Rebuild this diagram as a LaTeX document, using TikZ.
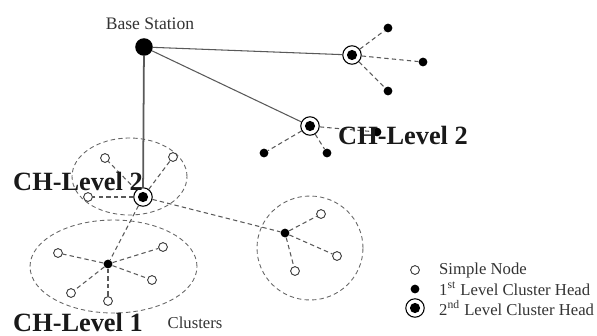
\documentclass[tikz,border=0pt]{standalone}
\usepackage{fontspec}
\setmainfont{Liberation Serif}

\begin{document}
\begin{tikzpicture}[x=0.02cm,y=-0.02cm,
        simple/.style={circle, draw=black!80, fill=white, line width=0.5pt, inner sep=0pt, minimum size=5pt},
        headone/.style={circle, fill=black, inner sep=0pt, minimum size=5pt},
        headtwo/.style={circle, draw=black, fill=white, line width=0.6pt, inner sep=0pt, minimum size=10.5pt,
                path picture={\fill[black] (path picture bounding box.center) circle (2.9pt);}},
        basest/.style={circle, fill=black, inner sep=0pt, minimum size=10pt},
        uplink/.style={black!65, line width=0.6pt},
        dlink/.style={black!65, line width=0.6pt, dash pattern=on 2.5pt off 1.8pt},
        cluster/.style={black!60, line width=0.5pt, dash pattern=on 2.5pt off 1.8pt},
        biglabel/.style={font=\bfseries\fontsize{15}{15}\selectfont, text=black!90},
        smalllabel/.style={font=\fontsize{9.5}{10}\selectfont, text=black!80}]

        \useasboundingbox (0,0) rectangle (597,335);

        % clusters
        \draw[cluster] (129.5,176.5) ellipse [x radius=1.15cm, y radius=0.77cm];
        \draw[cluster] (113.5,266.5) ellipse [x radius=1.67cm, y radius=0.93cm];
        \draw[cluster] (310,248) ellipse [x radius=1.06cm, y radius=1.04cm];

        % base station
        \node[basest] (bs) at (144,47) {};
        \node[smalllabel, font=\fontsize{10}{10}\selectfont] at (150,24) {Base Station};

        % 2nd level cluster heads
        \node[headtwo] (cha) at (352,55) {};
        \node[headtwo] (chb) at (310,126) {};
        \node[headtwo] (chc) at (143,197) {};

        % 1st level cluster heads
        \node[headone] (cho) at (108,264) {};
        \node[headone] (chp) at (285,233) {};

        % members of the far heads
        \node[headone] (ra) at (388,28) {};
        \node[headone] (rb) at (423,62) {};
        \node[headone] (rc) at (388,91) {};
        \node[headone] (ma) at (264,153) {};
        \node[headone] (mb) at (327,153) {};
        \node[headone] (mc) at (377,132) {};

        % simple nodes
        \node[simple] (sa) at (105,158) {};
        \node[simple] (sb) at (173,157) {};
        \node[simple] (sc) at (88,197) {};
        \node[simple] (ta) at (58,253) {};
        \node[simple] (tb) at (163,247) {};
        \node[simple] (tc) at (152,280) {};
        \node[simple] (td) at (71,293) {};
        \node[simple] (te) at (108,301) {};
        \node[simple] (ua) at (321,214) {};
        \node[simple] (ub) at (337,256) {};
        \node[simple] (uc) at (295,271) {};

        % links to the base station
        \draw[uplink] (bs) -- (cha);
        \draw[uplink] (bs) -- (chb);
        \draw[uplink, line width=1pt] (bs) -- (chc);

        % links inside the clusters
        \foreach \m in {ra,rb,rc} \draw[dlink] (cha) -- (\m);
        \foreach \m in {ma,mb,mc} \draw[dlink] (chb) -- (\m);
        \foreach \m in {sa,sb,sc} \draw[dlink] (chc) -- (\m);
        \foreach \m in {ta,tb,tc,td,te} \draw[dlink] (cho) -- (\m);
        \foreach \m in {ua,ub,uc} \draw[dlink] (chp) -- (\m);
        \draw[dlink] (chc) -- (cho);
        \draw[dlink] (chc) -- (chp);

        % labels
        \node[biglabel] at (403,135) {CH-Level 2};
        \node[biglabel] at (78,181) {CH-Level 2};
        \node[biglabel] at (78,322) {CH-Level 1};
        \node[smalllabel] at (195,323) {Clusters};

        % legend
        \node[simple] (lga) at (415,270) {};
        \node[headone] (lgb) at (415,289) {};
        \node[headtwo] (lgc) at (415,308) {};
        \node[smalllabel, anchor=west] at (433,270) {Simple Node};
        \node[smalllabel, anchor=west] at (433,289) {1\textsuperscript{st} Level Cluster Head};
        \node[smalllabel, anchor=west] at (433,308) {2\textsuperscript{nd} Level Cluster Head};

\end{tikzpicture}
\end{document}
